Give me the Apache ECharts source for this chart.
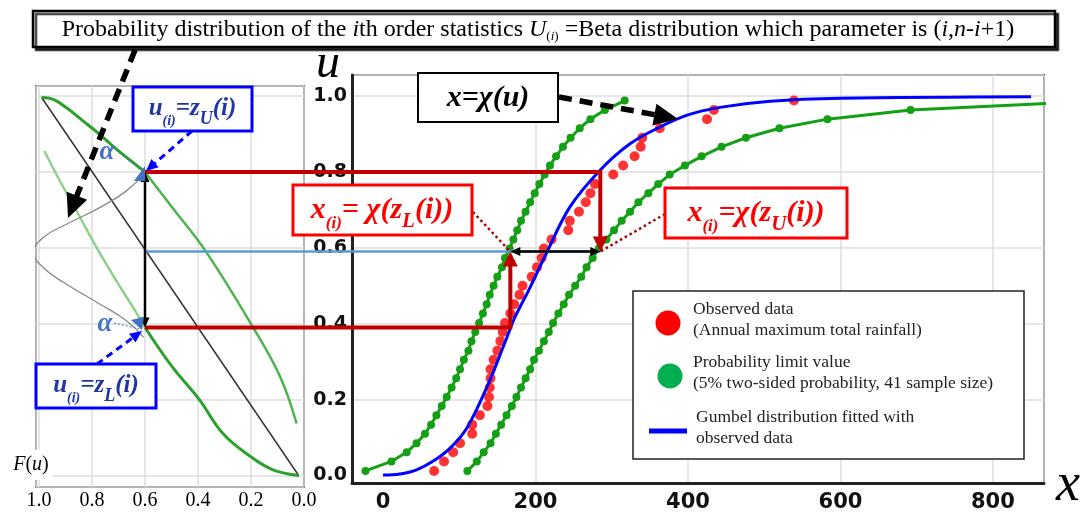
<!DOCTYPE html>
<html><head><meta charset="utf-8">
<script src="https://cdn.jsdelivr.net/npm/echarts@6/dist/echarts.min.js"></script>
<style>html,body{margin:0;padding:0;background:#fff}#c{width:1084px;height:516px}</style>
</head><body><div id="c"></div>
<script>
// ---------------- data ----------------
// plotting positions of the 41 order statistics (non-exceedance probability u)
const plotU = [0.012,0.037,0.061,0.085,0.110,0.134,0.159,0.183,0.207,0.232,0.256,0.280,0.305,0.329,0.354,0.378,0.402,0.427,0.451,0.476,0.500,0.524,0.549,0.573,0.598,0.622,0.646,0.671,0.695,0.720,0.744,0.768,0.793,0.817,0.841,0.866,0.890,0.915,0.939,0.963,0.988];
// observed annual maximum total rainfall (sorted)
const observedX = [67,80,92,101,117,117,127,137,139,140,141,141,145,150,154,157,160,167,172,179,183,195,202,208,211,221,243,245,257,266,272,278,302,315,330,338,340,363,425,434,539];
// probability limit values x = chi(zL(i)) (left green) and x = chi(zU(i)) (right green)
const limitLowX = [-23,11,31,44,55,63,70,77,83.5,90,96,101,106,112,116,121,126,131,136,140,145,150,156,160,166,171,176,181,187,193,199,205,212,219,227,236,246,258,272,291,317];
const limitUpX = [110.6,123,132,141,148,155,162,169,175,181,187,193,198,204.5,211,217.5,223,230,237,244,252,260,267,275,283,293,303,313,324,335,348,361,376,396,418,444,476,520,583,692,955];
// fitted Gumbel distribution
const gumbelX = [0,22,44,66,88,110,138,160,173,191,212,245,285,324,363,398,442,508,600,850];
const gumbelU = [0.001,0.004,0.015,0.038,0.072,0.125,0.241,0.351,0.417,0.488,0.576,0.707,0.805,0.874,0.918,0.949,0.970,0.986,0.994,0.998];
// left panel: F(u) (horizontal, reversed) against u (vertical)
const diagF = [0.99, 0.02];
const diagU = [0.996, 0.0];
const upperTopF = [0.99,0.946,0.896,0.833,0.771,0.708,0.6];
const upperTopU = [0.996,0.991,0.969,0.934,0.899,0.86,0.8];
const upperLowF = [0.6,0.497,0.37,0.192,0.09,0.028];
const upperLowU = [0.8,0.706,0.59,0.39,0.26,0.137];
const lowerLightF = [0.98,0.921,0.858,0.783,0.708,0.645,0.6];
const lowerLightU = [0.855,0.776,0.697,0.601,0.513,0.443,0.39];
const lowerDarkF = [0.6,0.497,0.395,0.305,0.2,0.117,0.02];
const lowerDarkU = [0.39,0.286,0.2,0.11,0.049,0.015,0.0];
const bellF = [0.605,0.67,0.771,0.896,0.984,1.018,0.984,0.896,0.771,0.67,0.605];
const bellU = [0.795,0.75,0.706,0.662,0.627,0.588,0.548,0.504,0.452,0.408,0.364];
// construction values of the highlighted order statistic
const markF = 0.6, markUHigh = 0.8, markULow = 0.39, markUMid = 0.59, markXL = 167, markXU = 285;

// ---------------- chart ----------------
const SERIF = '"Liberation Serif","Times New Roman",serif';
const SANS = '"DejaVu Sans",sans-serif';
const chart = echarts.init(document.getElementById('c'), null, {renderer: 'canvas'});
const zip = (a, b) => a.map((v, i) => [v, b[i]]);
const G = '#dedede', T = 'rgba(0,0,0,0)';
const gridLine = {show: true, lineStyle: {color: G, width: 1.5}};
const gridLineNoZero = {show: true, lineStyle: {color: [G, T, G, G, G, G, G, G], width: 1.5}};

chart.setOption({
  animation: false,
  backgroundColor: '#fff',
  grid: [
    {left: 36, top: 86, width: 268, height: 401, show: true, borderColor: '#000', borderWidth: 1.5, backgroundColor: 'rgba(0,0,0,0)', containLabel: false, outerBoundsMode: 'none'},
    {left: 352, top: 75, width: 692, height: 408, show: true, borderColor: '#333', borderWidth: 2, backgroundColor: 'rgba(0,0,0,0)', containLabel: false, outerBoundsMode: 'none'}
  ],
  xAxis: [
    {gridIndex: 0, type: 'value', inverse: true, min: 0, max: 1.0113, splitNumber: 5,
     axisLine: {show: false, onZero: false}, axisTick: {show: false},
     axisLabel: {fontFamily: SERIF, fontSize: 20, color: '#000', margin: 4, showMaxLabel: false, showMinLabel: true, formatter: v => v.toFixed(1)},
     splitLine: gridLine},
    {gridIndex: 1, type: 'value', min: -40.7, max: 867, splitNumber: 5,
     axisLine: {show: true, onZero: false, lineStyle: {color: '#222', width: 3}}, axisTick: {show: false},
     axisLabel: {fontFamily: SANS, fontWeight: 'bold', fontSize: 21, color: '#111', margin: 9, showMinLabel: false, showMaxLabel: false},
     splitLine: gridLineNoZero}
  ],
  yAxis: [
    {gridIndex: 0, type: 'value', min: -0.0303, max: 1.0264, splitNumber: 5,
     axisLine: {show: false, onZero: false}, axisTick: {show: false}, axisLabel: {show: false},
     splitLine: gridLine},
    {gridIndex: 1, type: 'value', min: -0.0198, max: 1.0553, splitNumber: 5,
     axisLine: {show: true, onZero: false, lineStyle: {color: '#222', width: 3}}, axisTick: {show: false},
     axisLabel: {fontFamily: SANS, fontWeight: 'bold', fontSize: 19, color: '#111', margin: 5, showMinLabel: false, showMaxLabel: false, formatter: v => v.toFixed(1)},
     splitLine: gridLineNoZero}
  ],
  series: [
    {type: 'line', xAxisIndex: 0, yAxisIndex: 0, data: zip(diagF, diagU), showSymbol: false, lineStyle: {color: '#333', width: 1.5}, z: 2},
    {type: 'line', xAxisIndex: 0, yAxisIndex: 0, data: zip(upperTopF, upperTopU), showSymbol: false, smooth: 0.4, lineStyle: {color: '#2ca02c', width: 3}, z: 3},
    {type: 'line', xAxisIndex: 0, yAxisIndex: 0, data: zip(upperLowF, upperLowU), showSymbol: false, smooth: 0.4, lineStyle: {color: '#4cb44c', width: 2.5}, z: 3},
    {type: 'line', xAxisIndex: 0, yAxisIndex: 0, data: zip(lowerLightF, lowerLightU), showSymbol: false, smooth: 0.4, lineStyle: {color: '#8fd08f', width: 2.5}, z: 3},
    {type: 'line', xAxisIndex: 0, yAxisIndex: 0, data: zip(lowerDarkF, lowerDarkU), showSymbol: false, smooth: 0.4, lineStyle: {color: '#2ca02c', width: 3}, z: 3},
    {type: 'line', xAxisIndex: 0, yAxisIndex: 0, data: zip(bellF, bellU), showSymbol: false, smooth: 0.5, clip: false, lineStyle: {color: '#8a8a8a', width: 1.3}, z: 3},
    {name: 'Probability limit value (lower)', type: 'line', xAxisIndex: 1, yAxisIndex: 1, data: zip(limitLowX, plotU), symbol: 'circle', symbolSize: 8, showSymbol: true, itemStyle: {color: '#14a014'}, lineStyle: {color: '#14a014', width: 3}, z: 3},
    {name: 'Probability limit value (upper)', type: 'line', xAxisIndex: 1, yAxisIndex: 1, data: zip(limitUpX, plotU), symbol: 'circle', symbolSize: 8, showSymbol: true, itemStyle: {color: '#14a014'}, lineStyle: {color: '#14a014', width: 3}, z: 3},
    {name: 'Observed data', type: 'scatter', xAxisIndex: 1, yAxisIndex: 1, data: zip(observedX, plotU), symbol: 'circle', symbolSize: 10, itemStyle: {color: '#ff0000'}, z: 4},
    {name: 'Gumbel distribution fitted with observed data', type: 'line', xAxisIndex: 1, yAxisIndex: 1, data: zip(gumbelX, gumbelU), showSymbol: false, smooth: 0.35, lineStyle: {color: '#0000ff', width: 3}, z: 5}
  ]
});

// ---------------- annotations ----------------
const PL = (f, u) => chart.convertToPixel({gridIndex: 0}, [f, u]);
const PR = (x, u) => chart.convertToPixel({gridIndex: 1}, [x, u]);
const Z = 20;
const els = [];

function head(tx, ty, dx, dy, hl, hw, color) {
  const nx = -dy, ny = dx;
  const bx = tx - dx * hl, by = ty - dy * hl;
  return {type: 'polygon', z: Z + 1, shape: {points: [[tx, ty], [bx + nx * hw / 2, by + ny * hw / 2], [bx - nx * hw / 2, by - ny * hw / 2]]}, style: {fill: color}};
}
function arrow(pts, o) {
  const p = pts.map(q => q.slice());
  const out = [];
  const n = p.length;
  if (o.end) {
    const a = p[n - 2], b = p[n - 1];
    const L = Math.hypot(b[0] - a[0], b[1] - a[1]), ux = (b[0] - a[0]) / L, uy = (b[1] - a[1]) / L;
    out.push(head(b[0], b[1], ux, uy, o.hl, o.hw, o.color));
    p[n - 1] = [b[0] - ux * o.hl * 0.8, b[1] - uy * o.hl * 0.8];
  }
  if (o.start) {
    const a = p[1], b = pts[0];
    const L = Math.hypot(b[0] - a[0], b[1] - a[1]), ux = (b[0] - a[0]) / L, uy = (b[1] - a[1]) / L;
    out.push(head(b[0], b[1], ux, uy, o.hl, o.hw, o.color));
    p[0] = [b[0] - ux * o.hl * 0.8, b[1] - uy * o.hl * 0.8];
  }
  out.unshift({type: 'polyline', z: Z, shape: {points: p}, style: {stroke: o.color, lineWidth: o.width, lineDash: o.dash || null, fill: null}});
  return out;
}
function box(x, y, w, h, stroke, lw) {
  return {type: 'rect', z: Z + 2, shape: {x: x, y: y, width: w, height: h}, style: {fill: '#fff', stroke: stroke, lineWidth: lw}};
}
function rtext(x, y, text, rich, extraStyle) {
  return {type: 'text', z: Z + 3, x: x, y: y, style: Object.assign({text: text, rich: rich, align: 'center', verticalAlign: 'middle'}, extraStyle || {})};
}

// key pixel positions (through the chart's scales)
const lHigh = PL(markF, markUHigh), lLow = PL(markF, markULow), lMid = PL(markF, markUMid);
const rUHigh = PR(markXU, markUHigh), rUMid = PR(markXU, markUMid);
const rLLow = PR(markXL, markULow), rLMid = PR(markXL, markUMid);

els.push({type: 'line', z: Z, shape: {x1: lMid[0], y1: lMid[1], x2: rUMid[0], y2: rUMid[1]}, style: {stroke: '#5b9bd5', lineWidth: 2.5}});
els.push(...arrow([lHigh, rUHigh, rUMid], {color: '#c00000', width: 4, hl: 15, hw: 15, end: true}));
els.push(...arrow([lLow, rLLow, rLMid], {color: '#c00000', width: 4, hl: 15, hw: 15, end: true}));
els.push(...arrow([lLow, lHigh], {color: '#000', width: 2.5, hl: 10, hw: 9, start: true, end: true}));
els.push(...arrow([rLMid, rUMid], {color: '#000', width: 2.5, hl: 10, hw: 9, start: true, end: true}));
els.push({type: 'line', z: Z, shape: {x1: 473, y1: 212, x2: rLMid[0], y2: rLMid[1]}, style: {stroke: '#b00000', lineWidth: 2.5, lineDash: [2.5, 3]}});
els.push({type: 'line', z: Z, shape: {x1: 665, y1: 214, x2: rUMid[0], y2: rUMid[1]}, style: {stroke: '#b00000', lineWidth: 2.5, lineDash: [2.5, 3]}});

// title box
els.push({type: 'rect', z: Z + 2, shape: {x: 33, y: 11, width: 1022, height: 36}, style: {fill: '#fff', stroke: '#000', lineWidth: 2.5, shadowColor: 'rgba(0,0,0,0.75)', shadowOffsetX: 3, shadowOffsetY: 3, shadowBlur: 1}});
const tN = {fontFamily: SERIF, fontSize: 24, fill: '#000', lineHeight: 26};
const tI = Object.assign({}, tN, {fontStyle: 'italic'});
const tS = {fontFamily: SERIF, fontSize: 13, fill: '#000', lineHeight: 13, verticalAlign: 'bottom'};
const tSI = Object.assign({}, tS, {fontStyle: 'italic'});
els.push(rtext(538, 30, '{n|Probability distribution of the }{i|i}{n|th order statistics }{i|U}{s|(}{si|i}{s|)}{n| =Beta distribution which parameter is (}{i|i}{n|,}{i|n}{n|-}{i|i}{n|+1)}', {n: tN, i: tI, s: tS, si: tSI}));

// black dashed arrows
els.push(...arrow([[135, 50], [68, 218]], {color: '#000', width: 5.5, dash: [13, 8], hl: 24, hw: 22, end: true}));
els.push(...arrow([[559, 97], [678, 119]], {color: '#000', width: 5.5, dash: [13, 8], hl: 24, hw: 22, end: true}));

// x = chi(u) box
els.push(box(418, 73, 140, 49, '#000', 2));
const bB = {fontFamily: SERIF, fontSize: 30, fontWeight: 'bold', fontStyle: 'italic', fill: '#000', lineHeight: 34};
els.push(rtext(488, 98, '{a|x=χ(u)}', {a: bB}));

// red boxes
const rA = {fontFamily: SERIF, fontSize: 30, fontWeight: 'bold', fontStyle: 'italic', fill: '#ff0000', lineHeight: 34};
const rS = {fontFamily: SERIF, fontSize: 17, fontWeight: 'bold', fontStyle: 'italic', fill: '#ff0000', lineHeight: 17, verticalAlign: 'bottom', padding: [0, 0, -5, 0]};
const rS2 = Object.assign({}, rS, {fontSize: 21, lineHeight: 21});
els.push(box(293, 185, 179, 50, '#ff0000', 3));
els.push(rtext(382, 210, '{a|x}{s|(i)}{a|= χ(z}{t|L}{a|(i))}', {a: rA, s: rS, t: rS2}));
els.push(box(665, 188, 182, 50, '#ff0000', 3));
els.push(rtext(756, 213, '{a|x}{s|(i)}{a|=χ(z}{t|U}{a|(i))}', {a: rA, s: rS, t: rS2}));

// blue boxes, arrows, alpha
const bA = {fontFamily: SERIF, fontSize: 25, fontWeight: 'bold', fontStyle: 'italic', fill: '#1f35a8', lineHeight: 28};
const bS = {fontFamily: SERIF, fontSize: 14, fontWeight: 'bold', fontStyle: 'italic', fill: '#1f35a8', lineHeight: 14, verticalAlign: 'bottom', padding: [0, 0, -5, 0]};
const bS2 = Object.assign({}, bS, {fontSize: 18, lineHeight: 18});
els.push(...arrow([[192, 131], [146, 171]], {color: '#0000ff', width: 3, dash: [7, 5], hl: 12, hw: 11, end: true}));
els.push(...arrow([[97, 364], [142, 331]], {color: '#0000ff', width: 3, dash: [7, 5], hl: 12, hw: 11, end: true}));
els.push(box(133, 87, 119, 44, '#0000ff', 3));
els.push(rtext(192.5, 109, '{a|u}{s|(i)}{a|=z}{t|U}{a|(i)}', {a: bA, s: bS, t: bS2}));
els.push(box(36, 364, 120, 44, '#0000ff', 3));
els.push(rtext(96, 386, '{a|u}{s|(i)}{a|=z}{t|L}{a|(i)}', {a: bA, s: bS, t: bS2}));
const alphaSt = {fontFamily: SERIF, fontSize: 27, fontWeight: 'bold', fontStyle: 'italic', fill: '#4472c4'};
els.push(rtext(107, 152, '{a|α}', {a: alphaSt}));
els.push(rtext(105, 324, '{a|α}', {a: alphaSt}));
els.push({type: 'line', z: Z, shape: {x1: 116, y1: 150, x2: 141, y2: 170}, style: {stroke: '#4472c4', lineWidth: 1, lineDash: [2, 2]}});
els.push({type: 'line', z: Z, shape: {x1: 114, y1: 323, x2: 140, y2: 329}, style: {stroke: '#4472c4', lineWidth: 1, lineDash: [2, 2]}});
els.push({type: 'polygon', z: Z + 1, shape: {points: [[134, 181], [145, 166], [145, 181]]}, style: {fill: '#4472c4'}});
els.push({type: 'polygon', z: Z + 1, shape: {points: [[131, 320], [144, 317], [142, 330]]}, style: {fill: '#4472c4'}});

// axis names
els.push(rtext(31, 465, '{a|F}{b|(}{a|u}{b|)}', {a: {fontFamily: SERIF, fontSize: 20, fontStyle: 'italic', fill: '#000'}, b: {fontFamily: SERIF, fontSize: 20, fill: '#000'}}, {backgroundColor: '#fff', padding: [5, 4, 5, 4]}));
els.push(rtext(328, 64, '{a|u}', {a: {fontFamily: SERIF, fontSize: 48, fontStyle: 'italic', fill: '#000'}}));
els.push(rtext(1068, 486, '{a|x}', {a: {fontFamily: SERIF, fontSize: 54, fontStyle: 'italic', fill: '#000'}}));

// legend
els.push({type: 'rect', z: Z + 2, shape: {x: 633, y: 291, width: 391, height: 168}, style: {fill: '#fff', stroke: '#222', lineWidth: 1.5}});
els.push({type: 'circle', z: Z + 3, shape: {cx: 668, cy: 323, r: 12.5}, style: {fill: '#ff0000'}});
els.push({type: 'circle', z: Z + 3, shape: {cx: 670, cy: 376, r: 12.5}, style: {fill: '#00b050'}});
els.push({type: 'rect', z: Z + 3, shape: {x: 649, y: 428.5, width: 38, height: 5}, style: {fill: '#0000ff'}});
const lg = {fontFamily: SERIF, fontSize: 17.5, fill: '#222'};
function ltext(x, y, t) { return {type: 'text', z: Z + 3, x: x, y: y, style: Object.assign({text: t, align: 'left', verticalAlign: 'middle'}, lg)}; }
els.push(ltext(693, 309, 'Observed data'));
els.push(ltext(693, 330, '(Annual maximum total rainfall)'));
els.push(ltext(693, 362, 'Probability limit value'));
els.push(ltext(693, 383, '(5% two-sided probability, 41 sample size)'));
els.push(ltext(696, 417, 'Gumbel distribution fitted with'));
els.push(ltext(696, 438, 'observed data'));

chart.setOption({graphic: {elements: els}});
</script>
</body></html>
